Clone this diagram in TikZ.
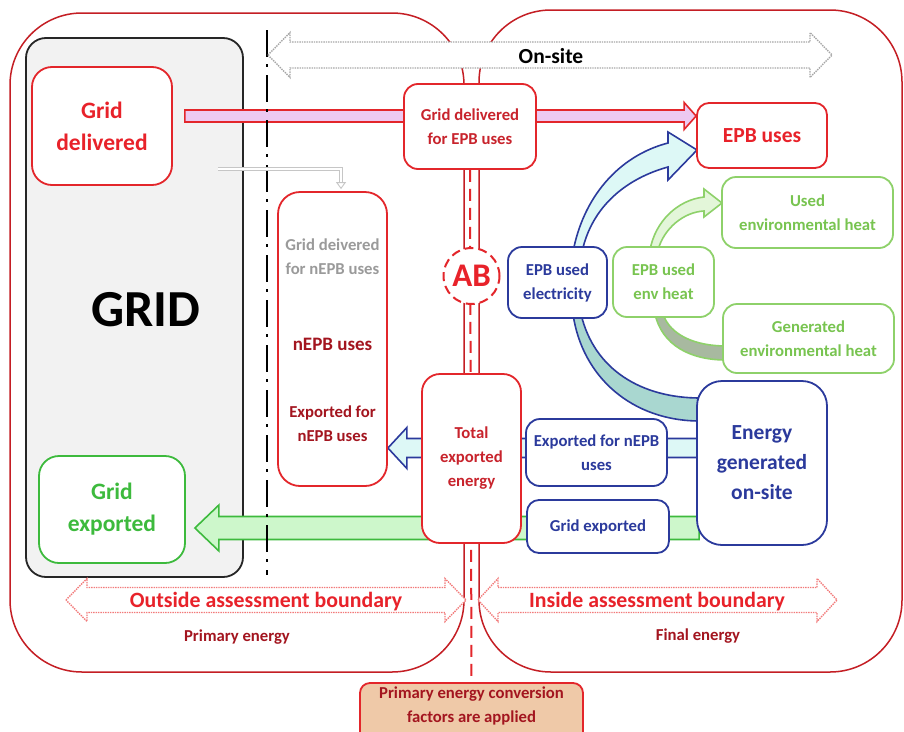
\documentclass[tikz,border=0pt]{standalone}
\usepackage{fontspec}
\setmainfont{Carlito}
\usetikzlibrary{calc,positioning,arrows.meta}

\pgfdeclarelayer{back}
\pgfdeclarelayer{mid}
\pgfsetlayers{back,mid,main}

\definecolor{boxred}{HTML}{E3262B}
\definecolor{darkred}{HTML}{C41E24}
\definecolor{txtred}{HTML}{E8222A}
\definecolor{totred}{HTML}{C8232C}
\definecolor{nepbred}{HTML}{A3151F}
\definecolor{gdgray}{HTML}{9A9A9A}
\definecolor{epbblue}{HTML}{2B3A9C}
\definecolor{gridgreen}{HTML}{3DBA3D}
\definecolor{heatgreen}{HTML}{8ED16A}
\definecolor{heattxt}{HTML}{78C450}
\definecolor{pinkfill}{HTML}{EDC9F1}
\definecolor{cyanfill}{HTML}{DDF8F6}
\definecolor{tealfill}{HTML}{A9D7D0}
\definecolor{greenfill}{HTML}{CDF7CB}
\definecolor{heatfill}{HTML}{E3F6D9}
\definecolor{heatgray}{HTML}{A8B9A0}
\definecolor{gridgray}{HTML}{F2F2F2}
\definecolor{pecffill}{HTML}{EFC9A8}
\definecolor{bndred}{HTML}{F27A7A}

% straight block arrow: style, from, tip, half width, half head, head length (signed)
\newcommand{\blockarrow}[6]{%
  \draw[#1] ($(#2)+(0,-#4)$) -- ($(#3)+({-(#6)},-#4)$) -- ($(#3)+({-(#6)},-#5)$) -- (#3)
    -- ($(#3)+({-(#6)},#5)$) -- ($(#3)+({-(#6)},#4)$) -- ($(#2)+(0,#4)$) -- cycle;}
% double headed boundary arrow: style, left tip, right tip, half width, half head, head length
\newcommand{\boundarrow}[6]{%
  \draw[#1] (#2) -- ($(#2)+(#6,-#5)$) -- ($(#2)+(#6,-#4)$) -- ($(#3)+(-#6,-#4)$) -- ($(#3)+(-#6,-#5)$)
    -- (#3) -- ($(#3)+(-#6,#5)$) -- ($(#3)+(-#6,#4)$) -- ($(#2)+(#6,#4)$) -- ($(#2)+(#6,#5)$) -- cycle;}

\begin{document}
\begin{tikzpicture}[x=1pt, y=-1pt]
    % Styles
    \tikzstyle{box}=[draw, rectangle, line width=1.8pt, fill=white, align=center, rounded corners=14pt]
    \tikzstyle{redbox}=[box, draw=boxred, text=txtred]
    \tikzstyle{bluebox}=[box, draw=epbblue, text=epbblue]
    \tikzstyle{greenbox}=[box, draw=gridgreen, text=gridgreen]
    \tikzstyle{heatbox}=[box, draw=heatgreen, text=heattxt]
    \tikzstyle{smalltxt}=[font=\fontsize{16.7}{24}\selectfont\bfseries, align=center]
    \tikzstyle{midtxt}=[font=\fontsize{21.5}{30}\selectfont\bfseries, align=center]
    \tikzstyle{bigtxt}=[font=\fontsize{23.5}{32}\selectfont\bfseries, align=center]
    \tikzstyle{outer}=[draw=darkred, line width=1.5pt, rounded corners=72pt]
    \tikzstyle{bound}=[draw=bndred, densely dotted, line width=1.4pt, fill=white]
    \tikzstyle{onsitebound}=[draw=gray!70, densely dotted, line width=1.4pt, fill=white]
    \tikzstyle{pinkarrow}=[draw=boxred, fill=pinkfill, line width=1.6pt]
    \tikzstyle{cyanarrow}=[draw=epbblue, fill=cyanfill, line width=1.6pt]
    \tikzstyle{greenarrow}=[draw=gridgreen, fill=greenfill, line width=1.6pt]
    \tikzstyle{elarrow}=[draw=epbblue, line width=1.6pt]
    \tikzstyle{heatarrow}=[draw=heatgreen, line width=1.6pt]
    \tikzstyle{hollow}=[draw=gray!45, double=white, double distance=2.5pt, line width=0.9pt, -{Triangle[open, length=7pt, width=10pt]}]

    \useasboundingbox (0,0) rectangle (904,731);
    \begin{pgfonlayer}{back}
        \fill[white] (0,0) rectangle (904,731);
    \end{pgfonlayer}

    % Nodes
    \node[redbox, bigtxt, minimum width=140, minimum height=118, rounded corners=20pt] (gdel) at (102,126) {Grid\\delivered};
    \node[greenbox, bigtxt, minimum width=146, minimum height=107, rounded corners=20pt] (gexp) at (112,509.5) {Grid\\exported};
    \node[font=\fontsize{52}{52}\selectfont\bfseries] (gridlbl) at (146,310) {GRID};
    \node[redbox, smalltxt, text=totred, minimum width=132, minimum height=85] (gdepb) at (470,126.5) {Grid delivered\\for EPB uses};
    \node[redbox, midtxt, minimum width=130, minimum height=65, rounded corners=12pt] (epbuses) at (762,135.5) {EPB uses};
    \node[redbox, minimum width=109, minimum height=294, rounded corners=22pt] (nepb) at (332.5,339) {};
    \node[smalltxt, text=gdgray] (gdnepb) at (332.5,256.5) {Grid deivered\\for nEPB uses};
    \node[font=\fontsize{19}{24}\selectfont\bfseries, text=nepbred] (nepbuses) at (332.5,344) {nEPB uses};
    \node[smalltxt, text=nepbred] (expfornepb) at (332.5,424) {Exported for\\nEPB uses};
    \node[redbox, smalltxt, text=totred, minimum width=99, minimum height=169, rounded corners=18pt] (total) at (471.5,458.5) {Total\\exported\\energy};
    \node[bluebox, smalltxt, minimum width=141, minimum height=67] (expnepb) at (596.5,452.5) {Exported for nEPB\\uses};
    \node[bluebox, smalltxt, minimum width=142, minimum height=53, rounded corners=12pt] (gexpb) at (598,526.5) {Grid exported};
    \node[bluebox, midtxt, minimum width=130, minimum height=164, rounded corners=25pt] (egen) at (762,463) {Energy\\generated\\on-site};
    \node[bluebox, smalltxt, minimum width=99, minimum height=71] (epbel) at (557.5,282.5) {EPB used\\electricity};
    \node[heatbox, smalltxt, minimum width=101, minimum height=70] (epbenv) at (663.5,282) {EPB used\\env heat};
    \node[heatbox, smalltxt, minimum width=171, minimum height=71] (usedenv) at (807.5,212.5) {Used\\environmental heat};
    \node[heatbox, smalltxt, minimum width=171, minimum height=69] (genenv) at (808.5,338.5) {Generated\\environmental heat};
    \node[circle, draw=boxred, dash pattern=on 9pt off 5pt, line width=2pt, fill=white, minimum size=56, inner sep=0pt,
          text=txtred, font=\fontsize{33}{33}\selectfont\bfseries] (ab) at (471.5,276) {AB};
    \node[redbox, fill=pecffill, minimum width=223, minimum height=70, rounded corners=10pt] (pecf) at (471.5,718) {};
    \node[smalltxt, text=nepbred] (pecflbl) at (471.5,705.5) {Primary energy conversion\\factors are applied};

    % Boundaries
    \begin{pgfonlayer}{back}
        \draw[outer] (10,13) rectangle (464,672);
        \draw[outer] (479,10) rectangle (902,672);
        \draw[boxred, line width=2pt, dash pattern=on 12pt off 7pt] (gdepb.south) -- (pecf.north);
        \node[draw=black!85, line width=1.8pt, fill=gridgray, rounded corners=20pt, minimum width=217, minimum height=539] (grid) at (134.5,307.5) {};
    \end{pgfonlayer}
    \draw[line width=2pt, dash pattern=on 27pt off 7pt on 3pt off 8pt] (267,30) -- (267,575);

    \coordinate (onL) at (268,55);
    \coordinate (onR) at (832,55);
    \boundarrow{onsitebound}{onL}{onR}{13}{22.5}{22}
    \node[midtxt] (onsite) at (551,56) {On-site};
    \coordinate (outL) at (66,600);
    \coordinate (outR) at (466,600);
    \boundarrow{bound}{outL}{outR}{12.5}{21.5}{21}
    \node[font=\fontsize{21.8}{26}\selectfont\bfseries, text=txtred] (outside) at (266,602) {Outside assessment boundary};
    \coordinate (inL) at (478,600);
    \coordinate (inR) at (837,600);
    \boundarrow{bound}{inL}{inR}{12.5}{21.5}{20}
    \node[font=\fontsize{21.8}{26}\selectfont\bfseries, text=txtred] (inside) at (657,602) {Inside assessment boundary};
    \node[smalltxt, text=nepbred] (primary) at (237,637) {Primary energy};
    \node[smalltxt, text=nepbred] (final) at (698,636) {Final energy};

    % Arrows
    \coordinate (pinkS) at ($(gdel.east)+(12,-10)$);
    \coordinate (pinkE) at ($(epbuses.west)+(0,-19.5)$);
    \coordinate (cyanS) at ($(egen.west)+(3,-15)$);
    \coordinate (cyanE) at (nepb.east |- cyanS);
    \coordinate (greenS) at ($(egen.west)+(3,65)$);
    \coordinate (greenE) at ($(gexp.east |- greenS)+(9,0)$);
    \begin{pgfonlayer}{mid}
        \blockarrow{pinkarrow}{pinkS}{pinkE}{6}{13.5}{12}
        \blockarrow{cyanarrow}{cyanS}{cyanE}{9.5}{20.5}{-19}
        \blockarrow{greenarrow}{greenS}{greenE}{11.5}{23}{-24}
        \draw[elarrow, fill=cyanfill] (573,252) .. controls (583,198) and (618,156) .. (668,143) -- (668,132) -- (697,150)
            -- (668,180) -- (668,167) .. controls (628,178) and (592,205) .. (582,252) -- cycle;
        \draw[elarrow, fill=tealfill] (573,314) .. controls (582,377) and (632,421) .. (700,421) -- (700,398)
            .. controls (642,398) and (594,370) .. (581,314) -- cycle;
        \draw[heatarrow, fill=heatfill] (650,250) .. controls (655,222) and (677,200) .. (704,197) -- (704,189) -- (722,203)
            -- (704,217) -- (704,211) .. controls (684,212) and (664,228) .. (658,250) -- cycle;
        \draw[heatarrow, fill=heatgray] (655,314) .. controls (662,345) and (690,360) .. (726,360) -- (726,346)
            .. controls (695,346) and (670,335) .. (663,314) -- cycle;
    \end{pgfonlayer}
    \draw[hollow] ($(gdel.south east)+(45,-17)$) -| ($(nepb.north)+(8.5,-2)$);
\end{tikzpicture}
\end{document}
